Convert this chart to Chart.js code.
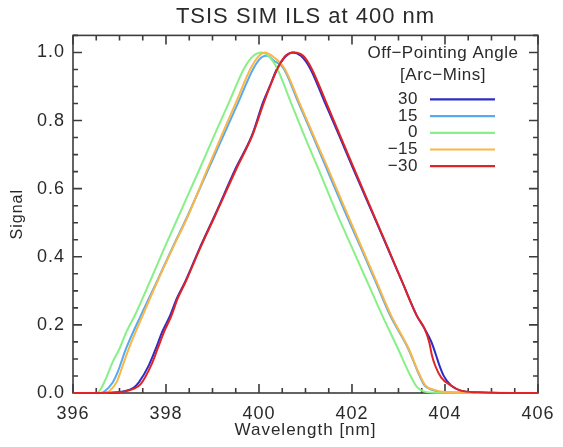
<!DOCTYPE html>
<html>
<head>
<meta charset="utf-8">
<script src="https://cdn.jsdelivr.net/npm/chart.js@4.4.1/dist/chart.umd.min.js"></script>
<style>
  html, body { margin: 0; padding: 0; background: #fff; }
  #wrap { width: 563px; height: 447px; }
</style>
</head>
<body>
<div id="wrap"><canvas id="grafico" width="563" height="447"></canvas></div>
<script>
// off-pointing angles (arc-min) and line colours
const angulos = ["30", "15", "0", "\u221215", "\u221230"];
const cores = ["rgb(45,45,200)", "rgb(85,170,240)", "rgb(135,240,135)", "rgb(250,182,70)", "rgb(225,35,35)"];

// wavelength [nm] and signal for each angle
const wl_p30 = [396.0, 396.8, 397.1, 397.3, 397.42, 397.63, 397.78, 397.92, 398.09, 398.23, 398.41, 398.72, 399.05, 399.5, 399.85, 400.09, 400.23, 400.38, 400.55, 400.72, 400.9, 401.1, 401.41, 401.72, 402.02, 402.46, 402.77, 403.08, 403.39, 403.56, 403.71, 403.81, 403.87, 403.97, 404.13, 404.34, 404.7, 405.2, 406.0];
const sig_p30 = [0, 0.001, 0.005, 0.015, 0.032, 0.081, 0.13, 0.18, 0.228, 0.277, 0.326, 0.424, 0.522, 0.66, 0.757, 0.855, 0.9, 0.95, 0.985, 1.0, 0.99, 0.953, 0.855, 0.757, 0.66, 0.522, 0.424, 0.326, 0.228, 0.189, 0.149, 0.11, 0.085, 0.051, 0.022, 0.007, 0.002, 0, 0];

const wl_p15 = [396.0, 396.6, 396.68, 396.85, 396.96, 397.14, 397.46, 397.8, 398.13, 398.47, 398.92, 399.24, 399.56, 399.88, 400.05, 400.17, 400.33, 400.53, 400.84, 401.15, 401.45, 401.88, 402.2, 402.51, 402.82, 403.21, 403.42, 403.56, 403.7, 404.0, 406.0];
const sig_p15 = [0, 0, 0.005, 0.03, 0.061, 0.13, 0.228, 0.326, 0.424, 0.522, 0.66, 0.757, 0.855, 0.953, 0.985, 0.99, 0.975, 0.953, 0.855, 0.757, 0.66, 0.522, 0.424, 0.326, 0.228, 0.13, 0.061, 0.022, 0.01, 0.002, 0];

const wl_0 = [396.0, 396.5, 396.58, 396.7, 396.85, 397.0, 397.15, 397.33, 397.65, 397.96, 398.28, 398.73, 399.04, 399.36, 399.68, 399.88, 400.05, 400.2, 400.39, 400.68, 400.97, 401.27, 401.69, 402.01, 402.33, 402.65, 402.99, 403.22, 403.4, 403.56, 403.8, 406.0];
const sig_0 = [0, 0, 0.008, 0.04, 0.09, 0.13, 0.18, 0.228, 0.326, 0.424, 0.522, 0.66, 0.757, 0.855, 0.953, 0.99, 1.0, 0.99, 0.953, 0.855, 0.757, 0.66, 0.522, 0.424, 0.326, 0.228, 0.13, 0.061, 0.017, 0.004, 0.001, 0];

const wl_m15 = [396.0, 396.7, 396.78, 396.95, 397.02, 397.2, 397.5, 397.81, 398.14, 398.48, 398.9, 399.2, 399.51, 399.82, 400.0, 400.12, 400.28, 400.55, 400.86, 401.17, 401.48, 401.91, 402.22, 402.53, 402.84, 403.22, 403.43, 403.58, 403.75, 404.0, 404.5, 406.0];
const sig_m15 = [0, 0, 0.005, 0.035, 0.061, 0.13, 0.228, 0.326, 0.424, 0.522, 0.66, 0.757, 0.855, 0.953, 0.99, 1.0, 0.99, 0.953, 0.855, 0.757, 0.66, 0.522, 0.424, 0.326, 0.228, 0.13, 0.061, 0.022, 0.01, 0.003, 0.001, 0];

const wl_m30 = [396.0, 396.8, 397.1, 397.3, 397.45, 397.68, 397.82, 397.96, 398.12, 398.25, 398.42, 398.73, 399.06, 399.52, 399.86, 400.11, 400.25, 400.4, 400.57, 400.76, 400.95, 401.13, 401.44, 401.74, 402.04, 402.47, 402.78, 403.08, 403.39, 403.56, 403.66, 403.72, 403.79, 403.92, 404.13, 404.34, 404.7, 405.2, 406.0];
const sig_m30 = [0, 0.001, 0.004, 0.012, 0.025, 0.081, 0.13, 0.18, 0.228, 0.277, 0.326, 0.424, 0.522, 0.66, 0.757, 0.855, 0.905, 0.953, 0.99, 1.0, 0.99, 0.953, 0.855, 0.757, 0.66, 0.522, 0.424, 0.326, 0.228, 0.189, 0.15, 0.11, 0.08, 0.045, 0.022, 0.007, 0.002, 0, 0];

const xTicks = [396, 398, 400, 402, 404, 406];
const yTicks = [0.0, 0.2, 0.4, 0.6, 0.8, 1.0];

const fonte = "'Liberation Sans', Arial, sans-serif";
const tinta = "#2a2a2a";

function pontos(wl, sig) {
    return wl.map((v, i) => ({x: v, y: sig[i]}));
}

const series = [
    pontos(wl_p30, sig_p30),
    pontos(wl_p15, sig_p15),
    pontos(wl_0, sig_0),
    pontos(wl_m15, sig_m15),
    pontos(wl_m30, sig_m30)
];

// IDL style box: inward ticks on all four sides + legend drawn in the plot
const moldura = {
    id: 'moldura',
    beforeDraw(chart) {
        chart.ctx.letterSpacing = '1px';
    },
    beforeDatasetsDraw(chart) {
        const ctx = chart.ctx;
        const a = chart.chartArea;
        const x = chart.scales.x, y = chart.scales.y;
        ctx.save();
        ctx.strokeStyle = '#3c3c3c';
        ctx.lineWidth = 1.6;
        ctx.strokeRect(a.left, a.top, a.right - a.left, a.bottom - a.top);
        ctx.beginPath();
        for (let i = 0; i <= 20; i++) {
            const v = 396 + i * 0.5;
            const px = x.getPixelForValue(v);
            const len = (i % 4 == 0) ? 9 : 5;
            ctx.moveTo(px, a.bottom); ctx.lineTo(px, a.bottom - len);
            ctx.moveTo(px, a.top); ctx.lineTo(px, a.top + len);
        }
        for (let i = 0; i <= 21; i++) {
            const v = i * 0.05;
            const py = y.getPixelForValue(v);
            const len = (i % 4 == 0) ? 9 : 5;
            ctx.moveTo(a.left, py); ctx.lineTo(a.left + len, py);
            ctx.moveTo(a.right, py); ctx.lineTo(a.right - len, py);
        }
        ctx.stroke();
        ctx.restore();
    },
    afterDatasetsDraw(chart) {
        const ctx = chart.ctx;
        const a = chart.chartArea;
        ctx.save();
        ctx.letterSpacing = '0.5px';
        ctx.fillStyle = tinta;
        ctx.font = "17px " + fonte;
        ctx.textBaseline = 'middle';
        ctx.textAlign = 'center';
        const cx = a.right - 95;
        ctx.fillText("Off\u2212Pointing Angle", cx, a.top + 18);
        ctx.fillText("[Arc\u2212Mins]", cx, a.top + 40);
        ctx.textAlign = 'right';
        chart.data.datasets.forEach((ds, i) => {
            const yy = a.top + 64 + i * 16.7;
            ctx.fillStyle = tinta;
            ctx.fillText(ds.label, a.right - 120, yy);
            ctx.strokeStyle = ds.borderColor;
            ctx.lineWidth = 2.2;
            ctx.beginPath();
            ctx.moveTo(a.right - 108, yy);
            ctx.lineTo(a.right - 43, yy);
            ctx.stroke();
        });
        ctx.restore();
    }
};

const ctx = document.getElementById("grafico");

const grafico = new Chart(ctx, {
    type: 'line',
    data: {
        datasets: series.map((pts, i) => ({
            label: angulos[i],
            data: pts,
            borderColor: cores[i],
            borderWidth: 2,
            pointRadius: 0,
            fill: false,
            cubicInterpolationMode: 'monotone',
            order: series.length - i,
            clip: 3
        }))
    },
    options: {
        responsive: false,
        animation: false,
        devicePixelRatio: 1,
        layout: { padding: { right: 18, top: 0, bottom: 0, left: 0 } },
        plugins: {
            legend: { display: false },
            tooltip: { enabled: false },
            title: {
                display: true,
                text: 'TSIS SIM ILS at 400 nm',
                fullSize: false,
                color: tinta,
                font: { family: fonte, size: 22, weight: 'normal' },
                padding: { top: 4, bottom: 5 }
            }
        },
        scales: {
            x: {
                type: 'linear',
                min: 396,
                max: 406,
                afterBuildTicks: s => { s.ticks = xTicks.map(v => ({value: v})); },
                afterFit: s => { s.height = 54; },
                grid: { display: false, drawTicks: false },
                border: { display: false },
                ticks: {
                    color: tinta,
                    padding: 10,
                    maxRotation: 0,
                    font: { family: fonte, size: 18 },
                    callback: v => String(v)
                },
                title: {
                    display: true,
                    text: 'Wavelength [nm]',
                    color: tinta,
                    font: { family: fonte, size: 17 },
                    padding: { top: 0, bottom: 6 }
                }
            },
            y: {
                min: 0,
                max: 1.05,
                afterBuildTicks: s => { s.ticks = yTicks.map(v => ({value: v})); },
                afterFit: s => { s.width = 73; },
                grid: { display: false, drawTicks: false },
                border: { display: false },
                ticks: {
                    color: tinta,
                    padding: 8,
                    font: { family: fonte, size: 18 },
                    callback: v => v.toFixed(1)
                },
                title: {
                    display: true,
                    text: 'Signal',
                    color: tinta,
                    font: { family: fonte, size: 16 },
                    padding: { top: 8, bottom: 0 }
                }
            }
        }
    },
    plugins: [moldura]
});
</script>
</body>
</html>
